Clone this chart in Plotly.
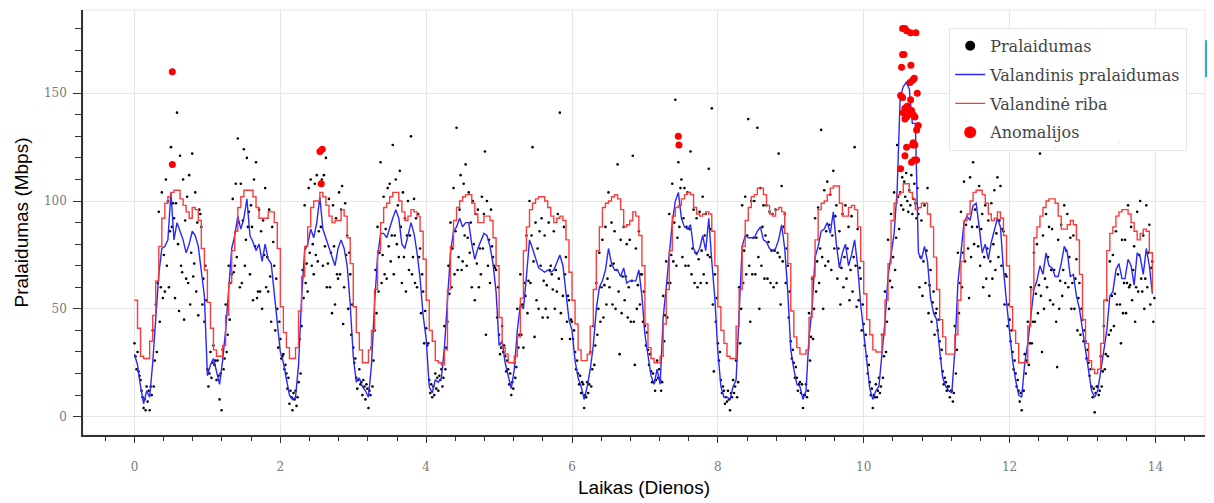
import plotly.graph_objects as go

HOURS_PER_DAY = 24
SAMPLES_PER_HOUR = 3

# Hourly mean throughput (blue line), one row per day, 24 values each
blue_hourly = [
    29, 24, 14, 6, 12, 9, 25, 48, 66, 78, 79, 82, 104, 82, 90, 86, 82, 76, 80, 86, 84, 79, 68, 56,
    19, 24, 27, 21, 15, 26, 40, 59, 78, 84, 93, 87, 92, 101, 84, 81, 77, 80, 72, 80, 73, 71, 58, 42,
    30, 25, 17, 10, 8, 9, 24, 55, 77, 80, 87, 83, 90, 102, 87, 83, 79, 75, 70, 78, 82, 78, 70, 52,
    28, 16, 18, 14, 12, 9, 24, 52, 74, 85, 85, 83, 88, 92, 96, 92, 80, 78, 84, 90, 85, 76, 64, 47,
    36, 14, 11, 17, 16, 18, 32, 57, 76, 86, 88, 92, 88, 90, 90, 80, 73, 78, 82, 85, 84, 79, 71, 58,
    33, 35, 25, 19, 13, 22, 40, 52, 50, 65, 82, 78, 74, 69, 68, 67, 68, 67, 68, 72, 75, 70, 58, 45,
    40, 26, 18, 14, 8, 14, 22, 33, 50, 60, 63, 68, 78, 71, 68, 68, 65, 69, 62, 63, 63, 63, 68, 56,
    38, 28, 19, 15, 22, 15, 46, 60, 77, 90, 100, 104, 92, 88, 87, 89, 78, 75, 78, 84, 77, 92, 72, 55,
    30, 14, 9, 9, 8, 14, 17, 48, 79, 84, 83, 83, 83, 86, 88, 82, 81, 78, 77, 78, 82, 89, 78, 58,
    31, 22, 15, 14, 8, 12, 37, 50, 74, 79, 86, 87, 90, 85, 95, 80, 69, 76, 80, 70, 75, 82, 70, 52,
    38, 24, 13, 8, 12, 14, 28, 44, 65, 76, 85, 105, 148, 153, 155, 152, 136, 136, 76, 73, 79, 72, 55, 48,
    45, 31, 18, 14, 12, 11, 31, 62, 77, 90, 93, 91, 98, 99, 88, 76, 80, 73, 81, 86, 92, 88, 68, 53,
    40, 26, 17, 10, 9, 25, 34, 46, 59, 63, 70, 66, 76, 70, 69, 65, 65, 71, 79, 76, 65, 66, 56, 50,
    40, 31, 22, 12, 9, 12, 21, 31, 40, 56, 58, 68, 71, 64, 64, 73, 70, 61, 76, 74, 66, 78, 70, 57,
]

# Hourly limit (red step line), one row per day
red_hourly = [
    54, 41, 28, 27, 27, 35, 47, 63, 79, 92, 99, 102, 104, 105, 105, 101, 98, 95, 92, 97, 96, 91, 78, 68,
    53, 41, 31, 28, 28, 33, 47, 62, 77, 86, 97, 102, 105, 105, 105, 102, 97, 92, 92, 92, 95, 95, 90, 78,
    51, 39, 32, 27, 27, 32, 49, 65, 79, 88, 97, 100, 100, 104, 102, 98, 93, 90, 91, 91, 96, 93, 83, 71,
    51, 39, 31, 25, 25, 31, 40, 59, 77, 90, 97, 99, 102, 104, 104, 100, 95, 91, 93, 96, 95, 93, 86, 73,
    54, 40, 35, 26, 25, 24, 31, 59, 79, 91, 97, 100, 102, 103, 103, 99, 94, 90, 90, 93, 93, 91, 83, 70,
    46, 32, 29, 25, 25, 28, 37, 55, 77, 88, 96, 99, 101, 102, 102, 100, 97, 93, 90, 92, 93, 91, 82, 67,
    54, 43, 31, 26, 26, 29, 42, 59, 77, 88, 97, 99, 100, 102, 103, 101, 96, 88, 89, 91, 95, 93, 84, 70,
    43, 32, 27, 25, 25, 28, 43, 59, 77, 93, 97, 98, 101, 103, 104, 103, 97, 94, 93, 94, 95, 94, 86, 70,
    51, 40, 34, 28, 27, 27, 42, 59, 79, 91, 97, 102, 103, 106, 106, 103, 98, 94, 93, 96, 97, 95, 85, 71,
    49, 37, 32, 29, 29, 31, 46, 65, 82, 96, 99, 100, 103, 106, 107, 107, 99, 93, 93, 97, 98, 96, 88, 72,
    57, 45, 38, 31, 30, 30, 38, 54, 71, 91, 99, 103, 104, 108, 108, 104, 101, 96, 97, 99, 99, 94, 88, 74,
    59, 45, 37, 29, 29, 29, 38, 54, 72, 91, 94, 100, 104, 105, 105, 103, 99, 94, 91, 92, 95, 92, 84, 70,
    51, 40, 34, 25, 25, 25, 42, 59, 83, 88, 93, 97, 100, 101, 101, 99, 93, 87, 87, 89, 91, 89, 82, 66,
    45, 34, 26, 22, 20, 22, 34, 54, 77, 85, 88, 93, 95, 96, 96, 94, 90, 86, 82, 85, 87, 86, 76, 58,
]

# Raw throughput measurements (black dots), 3 per hour, one block per day
throughput_samples = [
    34, 28, 22, 30, 21, 19, 17, 12, 9, 4, 8, 3, 14, 7, 12, 3, 14, 10,
    40, 14, 26, 52, 30, 62, 95, 44, 60, 104, 55, 75, 58, 110, 70, 100, 60, 86,
    125, 88, 99, 92, 55, 99, 141, 80, 49, 121, 70, 67, 110, 45, 91, 64, 102, 62,
    112, 52, 76, 122, 65, 71, 104, 58, 90, 47, 96, 94, 88, 52, 64, 44, 70, 54,

    22, 14, 20, 30, 18, 25, 33, 24, 26, 17, 26, 19, 8, 20, 3, 31, 22, 27,
    52, 30, 38, 70, 45, 62, 66, 101, 67, 70, 108, 74, 129, 90, 60, 108, 62, 91,
    124, 70, 82, 120, 88, 95, 66, 98, 88, 54, 110, 79, 118, 55, 58, 96, 58, 86,
    50, 91, 75, 106, 60, 74, 58, 96, 65, 44, 88, 81, 70, 40, 64, 50, 32, 44,

    36, 27, 28, 29, 22, 24, 20, 13, 18, 6, 12, 9, 3, 11, 8, 12, 5, 9,
    16, 36, 20, 42, 68, 55, 98, 62, 71, 58, 106, 76, 110, 70, 80, 66, 108, 75,
    112, 72, 86, 108, 88, 110, 70, 112, 79, 120, 60, 71, 101, 60, 76, 48, 98, 79,
    52, 92, 66, 64, 104, 66, 96, 107, 43, 60, 99, 75, 84, 50, 76, 66, 38, 52,

    32, 25, 27, 18, 13, 17, 22, 15, 16, 10, 17, 14, 8, 15, 13, 4, 12, 10,
    32, 14, 26, 40, 68, 48, 88, 58, 76, 118, 62, 75, 102, 66, 87, 64, 106, 79,
    108, 72, 84, 126, 66, 84, 110, 80, 98, 74, 114, 88, 62, 104, 74, 92, 58, 84,
    100, 68, 84, 130, 66, 74, 101, 62, 92, 60, 94, 74, 78, 48, 66, 58, 34, 49,

    41, 33, 34, 17, 11, 15, 9, 14, 10, 20, 13, 18, 12, 19, 17, 22, 14, 18,
    42, 22, 32, 44, 70, 57, 90, 60, 78, 106, 66, 86, 134, 68, 74, 96, 112, 68,
    72, 108, 84, 117, 70, 83, 104, 76, 90, 60, 100, 80, 54, 94, 71, 96, 60, 78,
    66, 102, 78, 94, 123, 38, 100, 70, 82, 62, 96, 79, 74, 70, 69, 68, 46, 60,

    38, 29, 32, 42, 30, 33, 28, 21, 26, 22, 15, 20, 10, 16, 13, 25, 18, 23,
    50, 32, 38, 66, 38, 52, 32, 62, 56, 84, 48, 63, 100, 62, 84, 125, 72, 37,
    90, 54, 78, 50, 86, 70, 92, 46, 63, 84, 50, 61, 46, 90, 68, 70, 66, 59,
    86, 50, 68, 58, 94, 64, 141, 48, 36, 56, 88, 66, 74, 44, 56, 54, 36, 45,

    44, 36, 40, 30, 22, 26, 20, 15, 19, 11, 16, 15, 4, 10, 9, 16, 11, 15,
    30, 14, 22, 42, 24, 33, 62, 38, 50, 76, 44, 60, 82, 46, 61, 88, 52, 64,
    104, 60, 70, 90, 52, 71, 86, 50, 68, 117, 58, 29, 82, 48, 65, 88, 54, 65,
    80, 46, 60, 82, 44, 63, 121, 44, 24, 78, 50, 61, 86, 52, 66, 66, 44, 58,

    42, 33, 39, 31, 24, 29, 21, 16, 20, 16, 12, 17, 26, 18, 22, 17, 12, 16,
    56, 35, 47, 72, 46, 62, 94, 62, 75, 108, 72, 90, 147, 70, 83, 118, 88, 106,
    110, 74, 92, 106, 70, 88, 104, 70, 87, 123, 66, 78, 96, 62, 76, 92, 60, 73,
    95, 62, 77, 102, 66, 84, 94, 62, 75, 115, 74, 87, 143, 52, 21, 66, 44, 55,

    34, 26, 30, 17, 11, 14, 12, 6, 9, 7, 12, 8, 3, 11, 9, 17, 11, 14,
    26, 9, 16, 60, 34, 50, 98, 62, 77, 102, 66, 84, 138, 70, 44, 100, 66, 83,
    100, 66, 83, 134, 74, 50, 106, 70, 88, 98, 64, 84, 98, 64, 81, 95, 62, 77,
    94, 60, 77, 96, 62, 76, 122, 74, 52, 107, 72, 88, 94, 62, 78, 70, 46, 58,

    35, 27, 31, 25, 18, 23, 18, 12, 15, 16, 11, 15, 4, 10, 10, 15, 9, 12,
    48, 26, 37, 64, 36, 50, 92, 58, 72, 97, 62, 78, 133, 74, 50, 105, 70, 86,
    109, 72, 89, 103, 68, 84, 114, 78, 93, 98, 64, 78, 86, 52, 69, 94, 60, 74,
    98, 64, 78, 88, 54, 68, 93, 58, 74, 125, 70, 51, 87, 54, 69, 64, 40, 52,

    43, 33, 38, 28, 20, 24, 16, 10, 13, 4, 10, 9, 15, 9, 12, 18, 11, 14,
    38, 18, 28, 58, 30, 44, 82, 50, 63, 94, 60, 74, 104, 68, 83, 126, 102, 87,
    104, 98, 111, 96, 109, 102, 113, 100, 95, 105, 98, 112, 94, 101, 108, 99, 92, 106,
    94, 60, 74, 91, 56, 72, 98, 62, 77, 106, 48, 61, 68, 44, 53, 58, 38, 48,

    50, 40, 45, 35, 27, 31, 21, 15, 18, 16, 12, 14, 14, 9, 12, 12, 7, 11,
    42, 20, 31, 76, 48, 62, 95, 60, 76, 109, 72, 89, 137, 78, 55, 111, 74, 88,
    118, 80, 96, 130, 88, 79, 107, 70, 87, 94, 60, 74, 98, 64, 78, 91, 56, 72,
    99, 64, 80, 105, 68, 85, 111, 74, 91, 107, 70, 87, 86, 52, 66, 65, 42, 52,

    45, 35, 40, 30, 22, 26, 20, 14, 17, 12, 7, 11, 3, 12, 12, 29, 20, 26,
    44, 24, 34, 60, 34, 44, 76, 44, 57, 80, 48, 61, 122, 56, 30, 84, 50, 64,
    94, 60, 74, 88, 54, 68, 87, 52, 68, 125, 44, 23, 82, 50, 63, 89, 56, 68,
    98, 62, 77, 94, 60, 74, 83, 50, 62, 84, 50, 64, 73, 40, 55, 62, 38, 50,

    45, 35, 40, 35, 27, 31, 25, 19, 22, 14, 9, 13, 2, 11, 14, 14, 10, 12,
    28, 14, 21, 42, 22, 29, 54, 28, 38, 72, 40, 56, 75, 42, 57, 86, 52, 66,
    127, 52, 34, 82, 48, 62, 82, 48, 62, 98, 60, 61, 88, 54, 68, 79, 44, 60,
    95, 58, 75, 100, 64, 58, 84, 50, 64, 98, 60, 76, 89, 52, 69, 72, 44, 55,
]

# Anomalies (red dots): time in days and value in Mbps
anomaly_days = [
    0.519, 0.519,
    2.543, 2.575, 2.561,
    7.457, 7.466,
    10.533, 10.565, 10.588, 10.643, 10.716, 10.533, 10.551, 10.519, 10.647, 10.670,
    10.693, 10.634, 10.506, 10.533, 10.643, 10.734, 10.565, 10.597, 10.624, 10.656,
    10.679, 10.542, 10.588, 10.611, 10.565, 10.702, 10.748, 10.725, 10.588, 10.679,
    10.702, 10.670, 10.565, 10.656, 10.693, 10.725, 10.506,
]
anomaly_values = [
    160, 117,
    123, 124, 108,
    130, 126,
    180, 180, 179, 178, 178, 168, 168, 162, 163, 156,
    157, 155, 149, 148, 147, 150, 143, 144, 142, 142,
    140, 141, 139, 140, 138, 139, 135, 133, 125, 127,
    126, 126, 121, 118, 119, 119, 115,
]

x_tick_values = [0, 2, 4, 6, 8, 10, 12, 14]
y_tick_values = [0, 50, 100, 150]

hour_days = [i / HOURS_PER_DAY for i in range(len(blue_hourly))]
sample_days = [i / (HOURS_PER_DAY * SAMPLES_PER_HOUR) for i in range(len(throughput_samples))]

BLACK = "black"
BLUE = "rgb(40,40,250)"
RED_LINE = "rgb(250,60,60)"
RED_DOT = "rgb(255,0,0)"

fig = go.Figure()
# data traces (legend keys for marker series are drawn by the key-only traces below)
fig.add_trace(go.Scatter(
    x=sample_days, y=throughput_samples, mode="markers", name="Pralaidumas",
    marker=dict(color=BLACK, size=2.6, line=dict(width=0)),
    legendgroup="g1", showlegend=False,
))
fig.add_trace(go.Scatter(
    x=hour_days, y=blue_hourly, mode="lines", name="Valandinis pralaidumas",
    line=dict(color=BLUE, width=1.4), legendgroup="g2", showlegend=True, legendrank=2,
))
fig.add_trace(go.Scatter(
    x=hour_days, y=red_hourly, mode="lines", name="Valandinė riba",
    line=dict(color=RED_LINE, width=1.4, shape="hv"), legendgroup="g3", showlegend=True, legendrank=3,
))
fig.add_trace(go.Scatter(
    x=anomaly_days, y=anomaly_values, mode="markers", name="Anomalijos",
    marker=dict(color=RED_DOT, size=7, line=dict(width=0)),
    legendgroup="g4", showlegend=False,
))
fig.add_trace(go.Scatter(
    x=[None], y=[None], mode="markers", name="Pralaidumas",
    marker=dict(color=BLACK, size=10), legendgroup="g1", showlegend=True, legendrank=1,
))
fig.add_trace(go.Scatter(
    x=[None], y=[None], mode="markers", name="Anomalijos",
    marker=dict(color=RED_DOT, size=12), legendgroup="g4", showlegend=True, legendrank=4,
))

axis_common = dict(
    showgrid=True, gridcolor="#e6e6e6", gridwidth=1, zeroline=False,
    showline=True, linecolor="#333", linewidth=1.5,
    ticks="outside", tickcolor="#333", tickwidth=1,
    tickfont=dict(family="DejaVu Serif", size=12, color="#7a7a7a"),
)

fig.update_layout(
    width=1214, height=503,
    margin=dict(l=83, r=9, t=10, b=68),
    paper_bgcolor="white", plot_bgcolor="white",
    showlegend=True,
    legend=dict(
        x=0.772, y=0.958, xanchor="left", yanchor="top",
        bgcolor="rgba(255,255,255,0.95)", bordercolor="#e6e6e6", borderwidth=1,
        font=dict(family="DejaVu Serif", size=16, color="#444"),
        itemsizing="trace", traceorder="grouped", tracegroupgap=5, itemwidth=30,
    ),
    xaxis=dict(
        axis_common, range=[-0.706, 14.68], tickvals=x_tick_values, ticklen=6,
        minor=dict(dtick=0.4, tick0=0, ticks="outside", ticklen=4, tickcolor="#333", showgrid=False),
        ticklabelstandoff=14,
        title=dict(text="Laikas (Dienos)", font=dict(family="Liberation Sans", size=19, color="black"), standoff=8),
    ),
    yaxis=dict(
        axis_common, range=[-8.5, 188.6], tickvals=y_tick_values, ticklen=8,
        minor=dict(dtick=10, tick0=0, ticks="outside", ticklen=6, tickcolor="#333", showgrid=False),
        ticklabelstandoff=4,
        title=dict(text="Pralaidumas (Mbps)", font=dict(family="Liberation Sans", size=19, color="black"), standoff=10),
    ),
    shapes=[
        dict(type="rect", xref="paper", yref="paper", x0=0, x1=1, y0=0, y1=1,
             line=dict(color="#e6e6e6", width=1), layer="below"),
        dict(type="line", xref="paper", yref="paper", x0=1.0009, x1=1.0009, y0=0.842, y1=0.929,
             line=dict(color="#29abe2", width=2)),
    ],
)

fig.write_html("out.html", config={"displayModeBar": False})
